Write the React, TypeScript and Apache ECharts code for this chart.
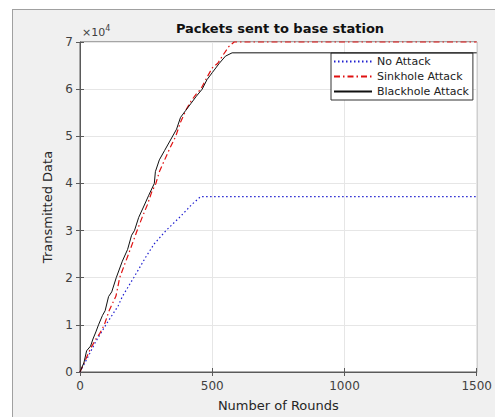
import React, { useEffect, useRef } from 'react';
import * as echarts from 'echarts';

const seriesNames = ['No Attack', 'Sinkhole Attack', 'Blackhole Attack'];
const xTickLabels = ['0', '500', '1000', '1500'];
const yTickLabels = ['0', '1', '2', '3', '4', '5', '6', '7'];

const noAttackRounds = [0, 30, 60, 100, 144, 161, 203, 250, 281, 325, 380, 424, 456, 1500];
const noAttackValues = [0, 3200, 6500, 10200, 14000, 16100, 20000, 24500, 27200, 30000, 33000, 35600, 37200, 37200];

const sinkholeRounds = [0, 20, 40, 60, 75, 92, 110, 136, 150, 170, 190, 216, 235, 255, 270, 287, 300, 320, 340, 362, 380, 400, 420, 440, 457, 480, 500, 521, 537, 562, 583, 1500];
const sinkholeValues = [0, 2500, 5000, 7000, 8200, 10000, 13000, 16100, 20000, 23000, 26000, 30000, 32800, 35500, 38000, 40000, 42500, 45000, 47500, 50000, 53000, 55500, 57500, 59000, 60000, 62500, 64500, 65500, 66900, 69000, 70000, 70000];

const blackholeRounds = [0, 15, 25, 40, 49, 60, 70, 85, 95, 108, 120, 137, 160, 180, 195, 206, 222, 240, 260, 281, 285, 300, 320, 340, 365, 380, 400, 420, 440, 462, 480, 500, 527, 550, 575, 1500];
const blackholeValues = [0, 2000, 4500, 5500, 7000, 8500, 10000, 12000, 13000, 16000, 17000, 20000, 23500, 26000, 29000, 30000, 32800, 35000, 37500, 40000, 42500, 45000, 47000, 49000, 51500, 54000, 55500, 57000, 58500, 60000, 62000, 63500, 65500, 67000, 67700, 67700];

const pairs = (xs: number[], ys: number[]) => xs.map((x, i) => [x, ys[i]]);

export default function App() {
  const ref = useRef<HTMLDivElement>(null);
  useEffect(() => {
    document.body.style.margin = '0';
    const chart = echarts.init(ref.current!, null, { renderer: 'svg' });
    const font = 'DejaVu Sans';
    const axisLineColor = '#5a5a5a';
    const labelColor = '#404040';
    chart.setOption({
      animation: false,
      textStyle: { fontFamily: font },
      title: {
        text: 'Packets sent to base station',
        left: 280,
        textAlign: 'center',
        top: 22,
        padding: 0,
        textStyle: { fontFamily: font, fontSize: 13, fontWeight: 'bold', color: '#111' },
      },
      grid: {
        left: 80,
        top: 42,
        right: 15,
        bottom: 40,
        show: true,
        backgroundColor: '#ffffff',
        borderColor: axisLineColor,
        borderWidth: 1,
      },
      legend: {
        orient: 'vertical',
        left: 331,
        top: 53,
        data: seriesNames,
        backgroundColor: '#ffffff',
        borderColor: '#333333',
        borderWidth: 1,
        borderRadius: 0,
        padding: [3, 4, 3, 2],
        itemWidth: 38,
        itemHeight: 11,
        itemGap: 4,
        itemStyle: { opacity: 0 },
        textStyle: { fontFamily: font, fontSize: 11, color: '#222', lineHeight: 11 },
      },
      graphic: [
        {
          type: 'text',
          left: 82,
          top: 24,
          style: {
            text: '{a|×10}{b|4}',
            rich: {
              a: { fontFamily: font, fontSize: 11, fill: labelColor, verticalAlign: 'bottom' },
              b: { fontFamily: font, fontSize: 8, fill: labelColor, verticalAlign: 'top', padding: [0, 0, 6, 0] },
            },
          },
        },
      ],
      xAxis: [
        {
          type: 'value',
          min: 0,
          max: 1500,
          interval: 500,
          name: 'Number of Rounds',
          nameLocation: 'middle',
          nameGap: 27,
          nameTextStyle: { fontFamily: font, fontSize: 13, color: '#262626' },
          axisLine: { show: true, lineStyle: { color: axisLineColor } },
          axisTick: { show: true, inside: true, length: 4, lineStyle: { color: axisLineColor } },
          axisLabel: {
            margin: 8,
            fontFamily: font,
            fontSize: 12,
            color: labelColor,
            showMaxLabel: true,
            showMinLabel: true,
            formatter: (v: number) => xTickLabels[Math.round(v / 500)] ?? '',
          },
          splitLine: { show: true, lineStyle: { color: '#e6e6e6' } },
        },
        {
          type: 'value',
          position: 'top',
          min: 0,
          max: 1500,
          interval: 500,
          axisLine: { show: false },
          axisTick: { show: true, inside: true, length: 4, lineStyle: { color: axisLineColor } },
          axisLabel: { show: false },
          splitLine: { show: false },
        },
      ],
      yAxis: [
        {
          type: 'value',
          min: 0,
          max: 70000,
          interval: 10000,
          name: 'Transmitted Data',
          nameLocation: 'middle',
          nameGap: 18,
          nameTextStyle: { fontFamily: font, fontSize: 13, color: '#262626' },
          axisLine: { show: true, lineStyle: { color: axisLineColor } },
          axisTick: { show: true, inside: true, length: 4, lineStyle: { color: axisLineColor } },
          axisLabel: {
            margin: 7,
            fontFamily: font,
            fontSize: 12,
            color: labelColor,
            formatter: (v: number) => yTickLabels[Math.round(v / 10000)] ?? '',
          },
          splitLine: { show: true, lineStyle: { color: '#e6e6e6' } },
        },
        {
          type: 'value',
          position: 'right',
          min: 0,
          max: 70000,
          interval: 10000,
          axisLine: { show: false },
          axisTick: { show: true, inside: true, length: 4, lineStyle: { color: axisLineColor } },
          axisLabel: { show: false },
          splitLine: { show: false },
        },
      ],
      series: [
        {
          name: seriesNames[0],
          type: 'line',
          data: pairs(noAttackRounds, noAttackValues),
          showSymbol: false,
          symbol: 'none',
          clip: false,
          lineStyle: { color: '#1f1fd0', width: 1.2, type: [1.5, 2.5] },
          itemStyle: { color: '#1f1fd0' },
          z: 3,
        },
        {
          name: seriesNames[1],
          type: 'line',
          data: pairs(sinkholeRounds, sinkholeValues),
          showSymbol: false,
          symbol: 'none',
          clip: false,
          lineStyle: { color: '#e01010', width: 1.2, type: [6, 3, 1.5, 3] },
          itemStyle: { color: '#e01010' },
          z: 4,
        },
        {
          name: seriesNames[2],
          type: 'line',
          data: pairs(blackholeRounds, blackholeValues),
          showSymbol: false,
          symbol: 'none',
          clip: false,
          lineStyle: { color: '#111111', width: 1 },
          itemStyle: { color: '#111111' },
          z: 5,
        },
      ],
    });
    return () => chart.dispose();
  }, []);

  return (
    <div style={{ position: 'relative', width: 495, height: 417, background: '#ffffff', overflow: 'hidden' }}>
      <div
        style={{
          position: 'absolute',
          left: 12,
          top: 9,
          width: 500,
          height: 420,
          background: '#f0f0f0',
          borderLeft: '1px solid #a0a0a0',
          borderTop: '1px solid #a0a0a0',
        }}
      />
      <div ref={ref} style={{ position: 'absolute', left: 0, top: 0, width: 495, height: 417 }} />
    </div>
  );
}
